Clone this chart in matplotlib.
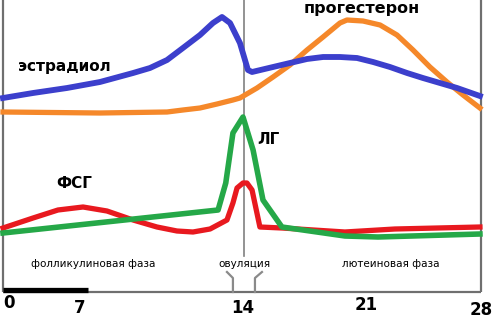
import matplotlib
matplotlib.use("Agg")
import matplotlib.pyplot as plt

# ---- data (day of cycle, relative level) ----
estradiol_days = [0.0, 1.76, 3.75, 5.68, 7.62, 8.61, 9.61, 10.54, 11.54, 12.30, 12.83, 13.30, 13.88,
                  14.35, 14.59, 15.82, 16.81, 17.81, 18.75, 19.74, 20.74, 21.68, 22.67, 23.67,
                  24.60, 25.60, 26.60, 27.94]
estradiol_vals = [226, 231, 236, 242, 251, 256, 264, 276, 289, 301, 307, 301, 281,
                  254, 252, 257, 261, 265, 267, 267, 266, 262, 257, 251,
                  246, 241, 236, 228]

progesterone_days = [0.0, 5.68, 9.61, 10.54, 11.54, 12.54, 13.47, 13.88, 14.88, 15.82, 16.81,
                     17.81, 18.75, 19.74, 20.15, 21.09, 22.09, 23.08, 24.02, 25.01, 26.01,
                     26.95, 27.94]
progesterone_vals = [212, 211, 212, 214, 216, 220, 224, 226, 236, 247, 259,
                     274, 287, 301, 304, 303, 299, 289, 274, 257, 242,
                     229, 216]

lh_days = [0.0, 12.6, 13.05, 13.47, 14.06, 14.65, 15.23, 16.34, 20.03, 21.97, 27.94]
lh_vals = [91, 114, 141, 191, 207, 174, 124, 97, 88, 87, 90]

fsh_days = [0.0, 1.76, 3.22, 4.69, 6.09, 7.62, 9.02, 10.19, 11.13, 12.13, 13.12, 13.47, 13.71,
            14.06, 14.29, 14.59, 15.05, 16.34, 20.03, 22.96, 27.94]
fsh_vals = [96, 106, 114, 117, 113, 104, 97, 93, 92, 95, 104, 121, 136,
            141, 141, 134, 97, 96, 92, 95, 97]

tick_labels = ["0", "7", "14", "21", "28"]
phase_labels = ["фолликулиновая фаза", "овуляция", "лютеиновая фаза"]

# ---- figure ----
fig = plt.figure(figsize=(4.95, 3.24), dpi=100)
ax = fig.add_axes([0, 0, 1, 1])
ax.set_xlim(-3 / 17.07, 492 / 17.07)
ax.set_ylim(0, 324)
ax.axis("off")

gray = "#6f6f6f"
# frame
ax.plot([0, 0], [32, 324], color=gray, lw=1.6, solid_capstyle="butt")
ax.plot([28, 28], [32, 324], color=gray, lw=1.6, solid_capstyle="butt")
ax.plot([0, 28], [32, 32], color=gray, lw=1.6, solid_capstyle="butt")
# ovulation line
ax.plot([14.12, 14.12], [68, 324], color="#808080", lw=1.2, zorder=1)
# bracket
ax.plot([13.12, 13.47, 13.47], [52, 46, 32], color="#8a8a8a", lw=1.6)
ax.plot([15.17, 14.76, 14.76], [52, 46, 32], color="#8a8a8a", lw=1.6)
# black bar
ax.plot([0, 4.98], [34.5, 34.5], color="black", lw=3.8, solid_capstyle="butt")

# curves
ax.plot(progesterone_days, progesterone_vals, color="#f5882a", lw=3.8, zorder=3,
        solid_joinstyle="round")
ax.plot(estradiol_days, estradiol_vals, color="#3c3fcc", lw=4.2, zorder=4,
        solid_joinstyle="round")
ax.plot(fsh_days, fsh_vals, color="#e8191f", lw=3.8, zorder=3, solid_joinstyle="round")
ax.plot(lh_days, lh_vals, color="#25a848", lw=4.0, zorder=4, solid_joinstyle="round")

# hormone labels
bold = dict(fontweight="bold", ha="center", va="center", color="black", family="DejaVu Sans")
ax.text(3.57, 258, "эстрадиол", fontsize=11, **bold)
ax.text(21.03, 315, "прогестерон", fontsize=11.5, **bold)
ax.text(15.52, 185, "ЛГ", fontsize=11, **bold)
ax.text(4.16, 140, "ФСГ", fontsize=11, **bold)

# phase labels
for x, s in zip([5.27, 14.12, 22.73], phase_labels):
    ax.text(x, 60, s, fontsize=7.5, ha="center", va="center", color="black")

# tick labels
tick_x = [0.35, 4.51, 14.06, 21.27, 28.0]
tick_y = [21, 16, 16, 19, 14]
for x, y, s in zip(tick_x, tick_y, tick_labels):
    ax.text(x, y, s, fontsize=12, **bold)

fig.savefig("out.png", dpi=100)
